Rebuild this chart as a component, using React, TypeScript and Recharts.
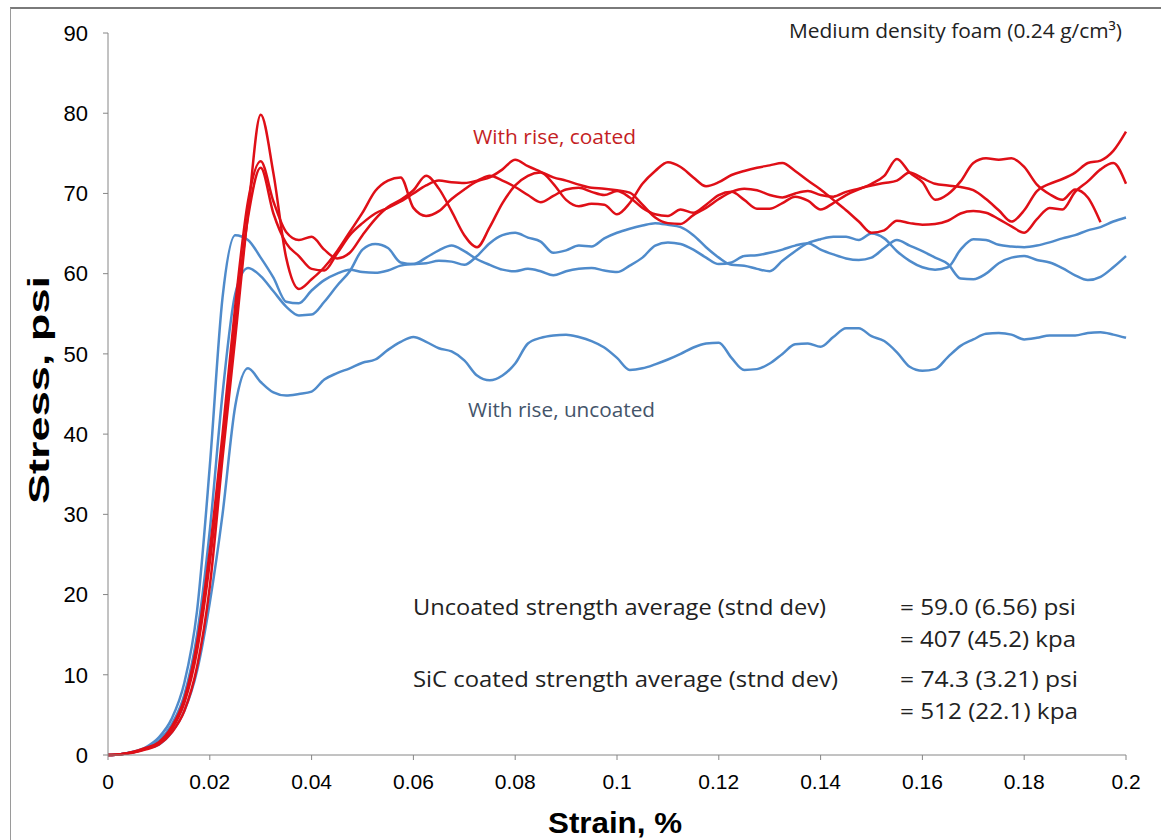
import React from 'react';
import { LineChart, Line, XAxis, YAxis } from 'recharts';

// strain grid (%), shared by every curve
const strain = [
  0, 0.0025, 0.005, 0.0075, 0.01, 0.0125, 0.015, 0.0175, 0.02, 0.0225,
  0.025, 0.0275, 0.03, 0.0325, 0.035, 0.0375, 0.04, 0.0425, 0.045, 0.0475,
  0.05, 0.0525, 0.055, 0.0575, 0.06, 0.0625, 0.065, 0.0675, 0.07, 0.0725,
  0.075, 0.0775, 0.08, 0.0825, 0.085, 0.0875, 0.09, 0.0925, 0.095, 0.0975,
  0.1, 0.1025, 0.105, 0.1075, 0.11, 0.1125, 0.115, 0.1175, 0.12, 0.1225,
  0.125, 0.1275, 0.13, 0.1325, 0.135, 0.1375, 0.14, 0.1425, 0.145, 0.1475,
  0.15, 0.1525, 0.155, 0.1575, 0.16, 0.1625, 0.165, 0.1675, 0.17, 0.1725,
  0.175, 0.1775, 0.18, 0.1825, 0.185, 0.1875, 0.19, 0.1925, 0.195, 0.1975,
  0.2,
];

// with rise, coated (psi)
const coatedA = [
  0, 0.1, 0.3, 0.7, 1.3, 2.8, 5.5, 11, 21, 37,
  52, 67.5, 79.8, 72.5, 62, 58.1, 59.3, 60.8, 62.8, 65.2,
  67.6, 70.3, 71.6, 72, 68.2, 67.2, 67.8, 69.3, 70.5, 71.5,
  72, 73, 74.2, 73.4, 72.7, 72, 71.6, 71.1, 70.7, 70.6,
  70.4, 70.1, 68.6, 67, 66.3, 66.2, 67.3, 68.2, 69.3, 70.2,
  70.6, 70.4, 69.8, 69.5, 70, 70.3, 69.8, 69.6, 70.2, 70.6,
  71, 71.3, 71.6, 72.6, 71.9, 71.2, 71, 70.8, 70.4, 69.3,
  67.9, 66.5, 67.9, 70.3, 71.2, 71.8, 72.6, 73.8, 74.1, 75.3,
  77.7,
];
const coatedB = [
  0, 0.1, 0.35, 0.8, 1.5, 3.2, 6.5, 13, 24, 38.5,
  54, 67, 73.2, 67.5, 63.8, 62.2, 60.6, 60.4, 62.5, 64.8,
  66.3, 67.5, 68.2, 69, 70, 71, 71.6, 71.4, 71.3, 71.6,
  72.2, 71.6, 70.8, 69.8, 68.9, 69.7, 70.5, 70.7, 70.2, 69.8,
  70.3, 69.5, 68.2, 67.4, 67.2, 68, 67.6, 68.6, 69.8, 70.2,
  69.2, 68.1, 68.1, 68.8, 69.6, 69.1, 68, 68.8, 69.8, 70.5,
  71.2, 72.2, 74.3, 72.6, 71.4, 69.2, 69.9, 71.5, 73.8, 74.4,
  74.2, 74.4, 73.3, 71.1, 69.9, 69.2, 70.5, 69.5, 66.4, null,
  null,
];
const coatedC = [
  0, 0.1, 0.4, 0.9, 1.6, 3.5, 7, 14, 25.5, 40,
  56, 69, 74, 69, 65.2, 64.2, 64.6, 63, 61.9, 62.6,
  64.8, 66.8, 68.3, 69.2, 70.4, 72.2, 70.6, 67.8, 64.8, 63.3,
  65.8, 68.8, 71, 72.2, 72.6, 71.2, 69.2, 68.4, 68.7, 68.6,
  67.4, 68.8, 71.2, 72.8, 73.9, 73.3, 72, 70.9, 71.4, 72.3,
  72.8, 73.2, 73.5, 73.8, 72.8, 71.6, 70.5, 69.2, 67.9, 66.5,
  65.1, 65.4, 66.6, 66.3, 66.1, 66.2, 66.6, 67.5, 67.8, 67.6,
  66.8, 65.9, 65.1, 66.8, 68.2, 68, 70.2, 71.5, 73, 73.8,
  71.2,
];

// with rise, uncoated (psi)
const uncoatedA = [
  0, 0.1, 0.4, 1.0, 2.2, 4.5, 9, 18, 36, 57,
  64.8, 64.2, 62, 59.5, 56.5, 56.3, 57.9, 59.2, 60, 60.5,
  60.2, 60.1, 60.4, 61, 61.2, 61.3, 61.6, 61.5, 61.1, 62.2,
  63.8, 64.8, 65.1, 64.5, 64, 62.6, 62.9, 63.5, 63.4, 64.4,
  65.1, 65.6, 66, 66.3, 66.1, 65.8, 64.8, 63.3, 62, 61.1,
  61, 60.6, 60.3, 61.6, 62.8, 63.8, 64.3, 64.6, 64.6, 64.2,
  65, 64.4, 62.8, 61.6, 60.8, 60.5, 60.8, 63, 64.3, 64.2,
  63.6, 63.4, 63.3, 63.5, 63.9, 64.4, 64.8, 65.4, 65.8, 66.5,
  67,
];
const uncoatedB = [
  0, 0.1, 0.4, 0.9, 1.8, 3.8, 7.5, 15, 28, 45,
  57.5, 60.7, 59.7, 57.8, 55.9, 54.8, 54.9, 56.5, 58.5, 60.3,
  63, 63.7, 63.2, 61.4, 61.2, 62, 62.9, 63.5, 62.8, 61.8,
  61.1, 60.5, 60.3, 60.6, 60.3, 59.8, 60.3, 60.6, 60.7, 60.4,
  60.2, 61, 62, 63.5, 63.9, 63.7, 63, 62, 61.2, 61.4,
  62.2, 62.3, 62.6, 63, 63.5, 63.8, 63, 62.4, 61.9, 61.7,
  62, 63.2, 64.2, 63.5, 62.8, 62, 61.2, 59.4, 59.3, 60,
  61.3, 62, 62.2, 61.7, 61.4, 60.7, 59.8, 59.2, 59.6, 60.8,
  62.2,
];
const uncoatedC = [
  0, 0.1, 0.35, 0.8, 1.3, 2.8, 5.5, 10.5, 19, 30,
  43.5, 48.2, 46.5, 45.2, 44.8, 45, 45.3, 46.8, 47.6, 48.2,
  48.9, 49.3, 50.5, 51.5, 52.1, 51.5, 50.7, 50.3, 49.2, 47.3,
  46.7, 47.3, 48.8, 51.3, 52, 52.3, 52.4, 52.1, 51.6, 50.8,
  49.5, 48, 48.2, 48.7, 49.3, 50, 50.8, 51.3, 51.4, 49.5,
  48, 48.1, 48.8, 50, 51.2, 51.3, 50.9, 52.1, 53.2, 53.2,
  52.2, 51.6, 50.2, 48.4, 47.9, 48.1, 49.6, 51, 51.8, 52.5,
  52.6, 52.4, 51.8, 52, 52.3, 52.3, 52.3, 52.6, 52.7, 52.4,
  52,
];

const xTicks = [0, 0.02, 0.04, 0.06, 0.08, 0.1, 0.12, 0.14, 0.16, 0.18, 0.2];
const yTicks = [0, 10, 20, 30, 40, 50, 60, 70, 80, 90];

const rows = strain.map((s, i) => ({
  strain: s,
  coatedA: coatedA[i],
  coatedB: coatedB[i],
  coatedC: coatedC[i],
  uncoatedA: uncoatedA[i],
  uncoatedB: uncoatedB[i],
  uncoatedC: uncoatedC[i],
}));

const RED = '#DF0F17';
const BLUE = '#4F8BCB';
const AXIS = '#868686';
const ARIAL = '"Liberation Sans", Arial, sans-serif';
const NOTE = '"Open Sans", "Liberation Sans", sans-serif';

const App: React.FC = () => {
  return (
    <div style={{ position: 'absolute', left: 0, top: 0, width: 1161, height: 840, overflow: 'hidden', background: '#fff' }}>
      <div
        style={{
          position: 'absolute',
          left: 10,
          top: 7,
          width: 1200,
          height: 900,
          borderTop: '2px solid #7a7a7a',
          borderLeft: '1px solid #9a9a9a',
        }}
      />
      <div style={{ position: 'absolute', left: 0, top: 0 }}>
        <LineChart width={1161} height={840} data={rows} margin={{ top: 33, right: 35, left: 0, bottom: 0 }}>
          <XAxis
            dataKey="strain"
            type="number"
            domain={[0, 0.2]}
            ticks={xTicks}
            interval={0}
            tickFormatter={(v: number) => String(v)}
            height={85}
            tickSize={5}
            tickMargin={14}
            axisLine={{ stroke: AXIS }}
            tickLine={{ stroke: AXIS }}
            tick={{ fill: '#000', fontSize: 21, fontFamily: ARIAL }}
          />
          <YAxis
            type="number"
            domain={[0, 90]}
            ticks={yTicks}
            interval={0}
            width={108}
            tickSize={5}
            tickMargin={15}
            axisLine={{ stroke: AXIS }}
            tickLine={{ stroke: AXIS }}
            tick={{ fill: '#000', fontSize: 22, fontFamily: ARIAL }}
          />
          <Line type="monotone" dataKey="uncoatedC" stroke={BLUE} strokeWidth={2.5} dot={false} isAnimationActive={false} />
          <Line type="monotone" dataKey="uncoatedB" stroke={BLUE} strokeWidth={2.5} dot={false} isAnimationActive={false} />
          <Line type="monotone" dataKey="uncoatedA" stroke={BLUE} strokeWidth={2.5} dot={false} isAnimationActive={false} />
          <Line type="monotone" dataKey="coatedC" stroke={RED} strokeWidth={2.5} dot={false} isAnimationActive={false} />
          <Line type="monotone" dataKey="coatedB" stroke={RED} strokeWidth={2.5} dot={false} isAnimationActive={false} />
          <Line type="monotone" dataKey="coatedA" stroke={RED} strokeWidth={2.5} dot={false} isAnimationActive={false} />
        </LineChart>
      </div>
      <svg width={1161} height={840} style={{ position: 'absolute', left: 0, top: 0, pointerEvents: 'none' }}>
        <text
          x={38}
          y={390}
          transform="rotate(-90 38 390)"
          textAnchor="middle"
          dominantBaseline="central"
          fontFamily={ARIAL}
          fontWeight="bold"
          fontSize={30}
          textLength={228}
          lengthAdjust="spacingAndGlyphs"
        >
          Stress, psi
        </text>
        <text x={615} y={833} textAnchor="middle" fontFamily={ARIAL} fontWeight="bold" fontSize={29} textLength={134} lengthAdjust="spacingAndGlyphs">
          Strain, %
        </text>
        <text x={789} y={38} fontFamily={NOTE} fontSize={20} fill="#222" textLength={333} lengthAdjust="spacingAndGlyphs">
          Medium density foam (0.24 g/cm³)
        </text>
        <text x={473} y={144} fontFamily={NOTE} fontSize={20} fill="#C41E24" textLength={163} lengthAdjust="spacingAndGlyphs">
          With rise, coated
        </text>
        <text x={468} y={417} fontFamily={NOTE} fontSize={20} fill="#44546A" textLength={187} lengthAdjust="spacingAndGlyphs">
          With rise, uncoated
        </text>
        <text x={413} y={615} fontFamily={NOTE} fontSize={21} fill="#222" textLength={413} lengthAdjust="spacingAndGlyphs">
          Uncoated strength average (stnd dev)
        </text>
        <text x={900} y={615} fontFamily={NOTE} fontSize={21} fill="#222" textLength={176} lengthAdjust="spacingAndGlyphs">
          = 59.0 (6.56) psi
        </text>
        <text x={900} y={647} fontFamily={NOTE} fontSize={21} fill="#222" textLength={176} lengthAdjust="spacingAndGlyphs">
          = 407 (45.2) kpa
        </text>
        <text x={413} y={687} fontFamily={NOTE} fontSize={21} fill="#222" textLength={425} lengthAdjust="spacingAndGlyphs">
          SiC coated strength average (stnd dev)
        </text>
        <text x={900} y={687} fontFamily={NOTE} fontSize={21} fill="#222" textLength={178} lengthAdjust="spacingAndGlyphs">
          = 74.3 (3.21) psi
        </text>
        <text x={900} y={719} fontFamily={NOTE} fontSize={21} fill="#222" textLength={178} lengthAdjust="spacingAndGlyphs">
          = 512 (22.1) kpa
        </text>
      </svg>
    </div>
  );
};

export default App;
